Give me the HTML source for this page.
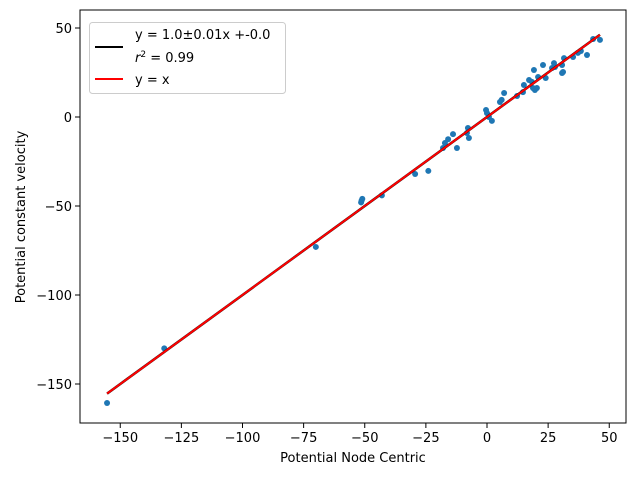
<!DOCTYPE html>
<html><head><meta charset="utf-8"><style>
body{margin:0;background:#fff;}
svg text{font-family:"DejaVu Sans","Liberation Sans",sans-serif;fill:#000;}
</style></head><body>
<svg width="640" height="480" id="chart">
<rect x="0" y="0" width="640" height="480" fill="#fff"/>
<g id="marks"></g>
<rect x="80" y="10" width="546" height="413" fill="none" stroke="#000" stroke-width="1"/>
<g id="ticks"></g>
<text x="353" y="462" font-size="13" text-anchor="middle">Potential Node Centric</text>
<text x="0" y="0" font-size="13" text-anchor="middle" transform="translate(25,217) rotate(-90)">Potential constant velocity</text>
<g>
<rect x="89.5" y="22.5" width="196" height="71" rx="3" fill="#fff" fill-opacity="0.8" stroke="#ccc"/>
<line x1="95" y1="47" x2="123" y2="47" stroke="#000" stroke-width="2"/>
<text x="135" y="39" font-size="13">y = 1.0±0.01x +-0.0</text>
<text x="135" y="62" font-size="13"><tspan font-style="italic">r</tspan><tspan font-size="9" dy="-5">2</tspan><tspan dy="5"> = 0.99</tspan></text>
<line x1="95" y1="79" x2="123" y2="79" stroke="#f00" stroke-width="2"/>
<text x="135" y="84" font-size="13">y = x</text>
</g>
</svg>
<script>
const xs = [-155.4,-132,-70,-51.5,-51,-51.3,-43,-29.4,-24,-18,-17.2,-15.9,-13.9,-12.3,-7.8,-8.2,-7.4,-0.4,0,0.8,2,5.3,6,7,12.3,14.7,15.1,17.2,18.4,19.2,18.8,19.6,20.4,20.9,22.9,24,26.6,27.4,27.8,30.7,30.7,31.1,31.5,35.2,37.2,38.4,40.9,43.4,46.2];
const ys = [-160.7,-130,-73,-48,-46,-47,-44,-32,-30.3,-17.4,-14.6,-12.5,-9.6,-17.4,-6.2,-9,-11.8,3.9,2.2,0,-2.2,8.4,9.6,13.5,11.8,14,18,20.8,19.7,26.4,16.3,15.2,16.3,22.5,29.2,21.9,27.5,30.3,28.1,29.2,24.7,25.3,33.1,33.7,36,37.1,34.8,43.8,43.3];
const xTicks = [-150,-125,-100,-75,-50,-25,0,25,50];
const yTicks = [-150,-100,-50,0,50];
const slope = 1.0, intercept = 0.0;
const X = v => 487 + v*2.445;
const Y = v => 117 - v*1.78;
const NS='http://www.w3.org/2000/svg';
const marks=document.getElementById('marks'), ticks=document.getElementById('ticks');
function mk(tag,attrs,parent){const e=document.createElementNS(NS,tag);for(const k in attrs)e.setAttribute(k,attrs[k]);parent.appendChild(e);return e;}
xs.forEach((x,i)=>{
  const c=mk('circle',{cx:X(x),cy:Y(ys[i]),r:3,fill:'#1f77b4'},marks);
  
  
});
const xmin=Math.min(...xs), xmax=Math.max(...xs);
const fl=mk('line',{x1:X(xmin),y1:Y(slope*xmin+intercept),x2:X(xmax),y2:Y(slope*xmax+intercept),stroke:'#000','stroke-width':2.5},marks);


const il=mk('line',{x1:X(xmin),y1:Y(xmin),x2:X(xmax),y2:Y(xmax),stroke:'#f00','stroke-width':2},marks);


xTicks.forEach(t=>{
  const l=mk('line',{x1:X(t),y1:423,x2:X(t),y2:428,stroke:'#000','stroke-width':1},ticks);
  
  
  const tx=mk('text',{x:X(t),y:442,'font-size':13,'text-anchor':'middle'},ticks);
  tx.textContent=t<0?'\u2212'+(-t):t;
  
  
});
yTicks.forEach(t=>{
  const l=mk('line',{x1:75,y1:Y(t),x2:80,y2:Y(t),stroke:'#000','stroke-width':1},ticks);
  
  
  const tx=mk('text',{x:72,y:Y(t)+5,'font-size':13,'text-anchor':'end'},ticks);
  tx.textContent=t<0?'\u2212'+(-t):t;
  
  
});
</script>
</body></html>
